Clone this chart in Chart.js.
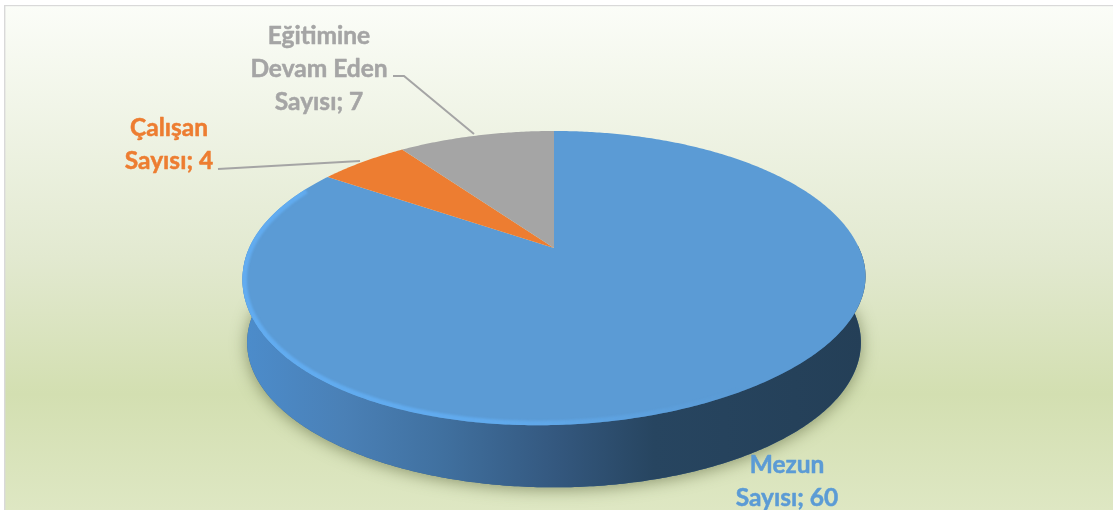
<!DOCTYPE html>
<html lang="tr">
<head>
<meta charset="utf-8">
<style>
html,body{margin:0;padding:0;background:#fff;overflow:hidden}
#wrap{width:1113px;height:510px;position:relative}
canvas{display:block}
</style>
<script src="https://cdn.jsdelivr.net/npm/chart.js@4"></script>
</head>
<body>
<div id="wrap"><canvas id="c" width="1113" height="510"></canvas></div>
<script>
const categoryLines = [["Mezun","Sayısı"],["Çalışan","Sayısı"],["Eğitimine","Devam Eden","Sayısı"]];
const categories = categoryLines.map(l => l.join(" "));
const values = [60, 4, 7];
const colors = ["#5b9bd5", "#ed7d31", "#a5a5a5"];

// projection of the pie plane onto the picture
const P = {cx:554, cy:248, f:305, g:140.9, k:0.204, depth:65, shrink:0.985, skew:0.025};
function project(nx, ny, lower){
  const w = 1 - P.k*ny, s = lower ? P.shrink : 1;
  const x = s*P.f*nx/w;
  const sk = lower ? 0 : -P.skew*x*Math.max(ny,0);
  return [P.cx + x, P.cy + (lower?P.depth:0) + s*P.g*ny/w + sk];
}
function rim(ctx, a0, a1, lower, move){
  const n = Math.max(2, Math.ceil(Math.abs(a1-a0)/0.01));
  for(let i=0;i<=n;i++){
    const a = a0+(a1-a0)*i/n;
    const p = project(Math.cos(a), Math.sin(a), lower);
    if(i===0 && move) ctx.moveTo(p[0],p[1]); else ctx.lineTo(p[0],p[1]);
  }
}
const frontA = Math.PI - 0.02, frontB = -0.02;   // left extreme → bottom → right extreme

const backdrop = {
  id:'backdrop',
  beforeDraw(chart){
    const c = chart.ctx, W = chart.width, H = chart.height;
    c.save();
    c.fillStyle='#fff'; c.fillRect(0,0,W,H);
    const g = c.createLinearGradient(0,5,0,H);
    g.addColorStop(0,'#fbfdf8');
    g.addColorStop(0.5,'#e2e9d0');
    g.addColorStop(0.77,'#d3dfb1');
    g.addColorStop(1,'#dee7c3');
    c.fillStyle=g; c.fillRect(5,6,W-5,H-6);
    c.fillStyle='#d9d9d9';
    c.fillRect(4,5,W-4,1.2);
    c.fillRect(4,5,1.4,H-5);
    c.restore();
  }
};

const tiltedPie = {
  id:'tiltedPie',
  beforeDatasetDraw(chart){
    const c = chart.ctx, arcs = chart.getDatasetMeta(0).data;
    // wall with cast shadow
    c.save();
    c.beginPath();
    rim(c, Math.PI+0.05, -0.05, true, true);
    c.closePath();
    c.shadowColor='rgba(85,95,55,0.6)'; c.shadowBlur=16; c.shadowOffsetY=2;
    c.fillStyle='#3a6590'; c.fill();
    c.restore();

    c.save();
    c.beginPath();
    rim(c, frontA, frontB, false, true);
    rim(c, frontB, frontA, true, false);
    c.closePath();
    const w = c.createLinearGradient(245,0,865,0);
    w.addColorStop(0,'#4c8ccb');
    w.addColorStop(0.16,'#4a80b6');
    w.addColorStop(0.32,'#40709f');
    w.addColorStop(0.5,'#34587f');
    w.addColorStop(0.66,'#274560');
    w.addColorStop(1,'#243f57');
    c.fillStyle=w; c.fill();
    c.restore();

    // top face: one filled sector per arc element
    arcs.forEach((a,i)=>{
      const p = a.getProps(['startAngle','endAngle'],true);
      c.beginPath();
      const o = project(0,0,false);
      c.moveTo(o[0],o[1]);
      rim(c, p.startAngle, p.endAngle, false, false);
      c.closePath();
      c.fillStyle = a.options.backgroundColor;
      c.fill();
    });

    // lit bevel along the front-left edge
    c.save();
    c.beginPath();
    rim(c, 0, Math.PI*2, false, true);
    c.closePath();
    c.clip();
    const b = c.createLinearGradient(240,0,740,0);
    b.addColorStop(0,'rgba(98,172,240,1)');
    b.addColorStop(0.5,'rgba(98,172,240,0.9)');
    b.addColorStop(1,'rgba(98,172,240,0)');
    c.strokeStyle=b; c.lineWidth=9;
    c.filter='blur(1.2px)';
    c.beginPath();
    rim(c, Math.PI*1.15, Math.PI*0.3, false, true);
    c.stroke();
    c.restore();
    return false;
  }
};

const labelSpots = [
  {x:787, y:[473,505.5]},
  {x:169, y:[136,169]},
  {x:319, y:[44,77,110]}
];
const labelColors = ["#5b9bd5","#ed7d31","#a5a5a5"];
const leaders = [
  null,
  [[218,169],[360,161]],
  [[393,76],[404,76],[474,134]]
];
const pieLabels = {
  id:'pieLabels',
  afterDraw(chart){
    const c = chart.ctx;
    c.save();
    leaders.forEach(l=>{
      if(!l) return;
      c.beginPath();
      l.forEach((p,i)=> i? c.lineTo(p[0],p[1]) : c.moveTo(p[0],p[1]));
      c.strokeStyle='#a5a5a5'; c.lineWidth=2; c.stroke();
    });
    c.font='bold 24.5px Lato, sans-serif';
    c.textAlign='center'; c.textBaseline='alphabetic';
    c.lineWidth=0.5; c.lineJoin='round';
    categoryLines.forEach((lines,i)=>{
      c.fillStyle=labelColors[i]; c.strokeStyle=labelColors[i];
      lines.forEach((t,j)=>{
        const txt = j===lines.length-1 ? t+'; '+values[i] : t;
        c.fillText(txt, labelSpots[i].x, labelSpots[i].y[j]);
        c.strokeText(txt, labelSpots[i].x, labelSpots[i].y[j]);
      });
    });
    c.restore();
  }
};

new Chart(document.getElementById('c'),{
  type:'pie',
  data:{labels:categories,datasets:[{data:values,backgroundColor:colors,borderWidth:0}]},
  options:{
    responsive:false,animation:false,
    plugins:{legend:{display:false},tooltip:{enabled:false}},
    events:[]
  },
  plugins:[backdrop,tiltedPie,pieLabels]
});
</script>
</body>
</html>
